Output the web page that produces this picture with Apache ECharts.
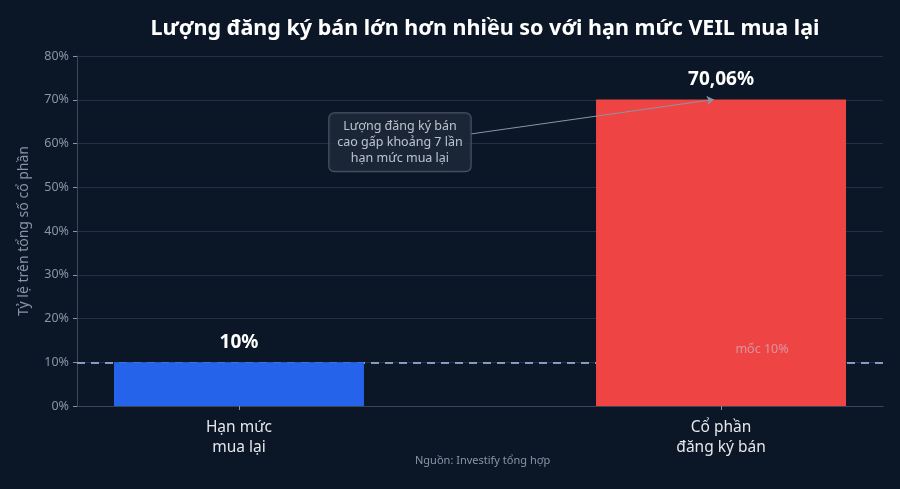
<!DOCTYPE html>
<html>
<head>
<meta charset="utf-8">
<script src="https://cdn.jsdelivr.net/npm/echarts@6/dist/echarts.min.js"></script>
<style>
  html, body { margin: 0; padding: 0; background: #0b1626; }
  #chart { width: 900px; height: 489px; }
</style>
</head>
<body>
<div id="chart"></div>
<script>
const categories = ['Hạn mức\nmua lại', 'Cổ phần\nđăng ký bán']
const values = [10, 70.06]
const valueLabels = ['10%', '70,06%']
const barColors = ['#2563eb', '#ef4444']
const yTicks = [0, 10, 20, 30, 40, 50, 60, 70, 80]
const refLine = 10
const refLabel = 'mốc 10%'
const refLabelPos = [1.085, 13]
const noteText = 'Lượng đăng ký bán\ncao gấp khoảng 7 lần\nhạn mức mua lại'
const notePos = [0.334, 60.3]
const arrowFrom = [0.482, 62.2]
const arrowTo = [0.985, 70.06]

const chart = echarts.init(document.getElementById('chart'), null, { renderer: 'canvas' })
const font = '"Noto Sans", sans-serif'

chart.setOption({
  backgroundColor: '#0b1626',
  textStyle: { fontFamily: font },
  title: {
    text: 'Lượng đăng ký bán lớn hơn nhiều so với hạn mức VEIL mua lại',
    left: 480, top: 13, textAlign: 'center',
    textStyle: { color: '#ffffff', fontSize: 21.5, fontWeight: 'bold', fontFamily: font },
  },
  graphic: [{
    type: 'text', left: 415, top: 455,
    style: { text: 'Nguồn: Investify tổng hợp', fill: '#8a94a6', fontSize: 11, fontFamily: font },
  }],
  grid: { left: 77, right: 17, top: 56, bottom: 83 },
  xAxis: {
    type: 'value',
    min: -0.336, max: 1.336,
    splitLine: { show: false },
    axisLine: { show: true, onZero: false, lineStyle: { color: '#3b4658' } },
    axisTick: { show: true, customValues: [0, 1], length: 4, lineStyle: { color: '#8a94a6' } },
    axisLabel: {
      customValues: [0, 1],
      formatter: v => categories[Math.round(v)],
      color: '#e5e7eb', fontSize: 15.5, lineHeight: 20, margin: 12,
    },
  },
  yAxis: {
    type: 'value',
    min: 0, max: 80, interval: 10,
    name: 'Tỷ lệ trên tổng số cổ phần',
    nameLocation: 'middle', nameGap: 46,
    nameTextStyle: { color: '#8a94a6', fontSize: 14 },
    axisLine: { show: true, onZero: false, lineStyle: { color: '#3b4658' } },
    axisTick: { show: true, length: 4, lineStyle: { color: '#8a94a6' } },
    axisLabel: { color: '#8a94a6', fontSize: 12.5, formatter: v => yTicks.includes(v) ? v + '%' : '' },
    splitLine: { lineStyle: { color: '#243044', width: 1 } },
  },
  series: [
    {
      type: 'line',
      z: 1,
      data: [],
      markLine: {
        silent: true, symbol: 'none', z: 1,
        lineStyle: { type: [8, 6], color: '#a9c4ee', width: 1.5 },
        label: { show: false },
        data: [{ yAxis: refLine }],
      },
    },
    {
      type: 'bar',
      z: 3,
      barWidth: 250,
      data: values.map((v, i) => ({ value: [i, v], itemStyle: { color: barColors[i] } })),
      label: {
        show: true, position: 'top', distance: 10,
        formatter: p => valueLabels[p.dataIndex],
        color: '#ffffff', fontSize: 19, fontWeight: 'bold',
      },
    },
    {
      type: 'scatter',
      symbolSize: 0, z: 4,
      data: [refLabelPos],
      label: {
        show: true, position: 'inside', formatter: refLabel,
        color: 'rgba(200,210,235,0.7)', fontSize: 12.5,
      },
    },
    {
      type: 'lines',
      coordinateSystem: 'cartesian2d',
      z: 5,
      symbol: ['none', 'arrow'], symbolSize: 7,
      lineStyle: { color: '#8a94a6', width: 1, opacity: 1 },
      data: [{ coords: [arrowFrom, arrowTo] }],
    },
    {
      type: 'scatter',
      symbolSize: 0,
      z: 6,
      data: [notePos],
      label: {
        show: true, position: 'inside',
        formatter: noteText,
        color: '#e2e8f0', fontSize: 12.5, lineHeight: 16, align: 'center',
        backgroundColor: '#1e293b', borderColor: '#5b6678', borderWidth: 1,
        borderRadius: 5, padding: [5, 8],
      },
    },
  ],
})
</script>
</body>
</html>
